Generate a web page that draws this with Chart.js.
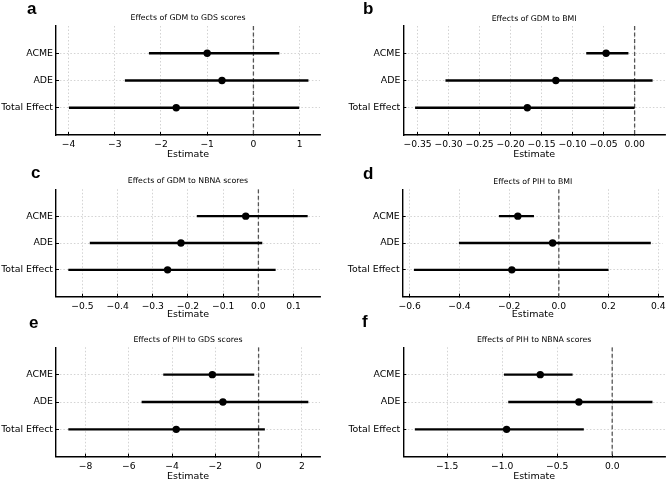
<!DOCTYPE html>
<html>
<head>
<meta charset="utf-8">
<script src="https://cdn.jsdelivr.net/npm/chart.js@4.4.0/dist/chart.umd.min.js"></script>
<style>
  body { margin: 0; background: #fff; }
  #wrap { position: relative; width: 669px; height: 482px; overflow: hidden; }
  .panel { position: absolute; }
  .letter { position: absolute; font: bold 17px "Liberation Sans", Arial, sans-serif; line-height: 17px; color: #000; }
</style>
</head>
<body>
<div id="wrap"></div>
<script>
// rows, top to bottom
const categories = ['ACME', 'ADE', 'Total Effect'];
const panelLetters = ['a', 'b', 'c', 'd', 'e', 'f'];
const panelTitles = [
    'Effects of GDM to GDS scores',
    'Effects of GDM to BMI',
    'Effects of GDM to NBNA scores',
    'Effects of PIH to BMI',
    'Effects of PIH to GDS scores',
    'Effects of PIH to NBNA scores'
];

// point estimates and 95% CI per panel (ACME, ADE, Total Effect)
const gdmGdsEst = [-1.00, -0.68, -1.67];
const gdmGdsLow = [-2.26, -2.78, -3.99];
const gdmGdsHigh = [0.56, 1.19, 0.99];

const gdmBmiEst = [-0.046, -0.127, -0.173];
const gdmBmiLow = [-0.078, -0.305, -0.354];
const gdmBmiHigh = [-0.010, 0.029, 0.000];

const gdmNbnaEst = [-0.036, -0.220, -0.258];
const gdmNbnaLow = [-0.175, -0.479, -0.540];
const gdmNbnaHigh = [0.140, 0.011, 0.049];

const pihBmiEst = [-0.165, -0.025, -0.189];
const pihBmiLow = [-0.241, -0.402, -0.583];
const pihBmiHigh = [-0.100, 0.370, 0.200];

const pihGdsEst = [-2.14, -1.65, -3.81];
const pihGdsLow = [-4.41, -5.41, -8.80];
const pihGdsHigh = [-0.20, 2.30, 0.29];

const pihNbnaEst = [-0.654, -0.303, -0.960];
const pihNbnaLow = [-0.984, -0.945, -1.794];
const pihNbnaHigh = [-0.360, 0.366, -0.258];

// x tick labels per panel
const gdmGdsTicks = [-4, -3, -2, -1, 0, 1];
const gdmBmiTicks = [-0.35, -0.30, -0.25, -0.20, -0.15, -0.10, -0.05, 0.00];
const gdmNbnaTicks = [-0.5, -0.4, -0.3, -0.2, -0.1, 0.0, 0.1];
const pihBmiTicks = [-0.6, -0.4, -0.2, 0.0, 0.2, 0.4];
const pihGdsTicks = [-8, -6, -4, -2, 0, 2];
const pihNbnaTicks = [-1.5, -1.0, -0.5, 0.0];

const panelData = [
    {est: gdmGdsEst, low: gdmGdsLow, high: gdmGdsHigh, ticks: gdmGdsTicks},
    {est: gdmBmiEst, low: gdmBmiLow, high: gdmBmiHigh, ticks: gdmBmiTicks},
    {est: gdmNbnaEst, low: gdmNbnaLow, high: gdmNbnaHigh, ticks: gdmNbnaTicks},
    {est: pihBmiEst, low: pihBmiLow, high: pihBmiHigh, ticks: pihBmiTicks},
    {est: pihGdsEst, low: pihGdsLow, high: pihGdsHigh, ticks: pihGdsTicks},
    {est: pihNbnaEst, low: pihNbnaLow, high: pihNbnaHigh, ticks: pihNbnaTicks}
];

// layout of each panel (canvas box, axis sizes, x range, letter spot)
const layouts = [
    {left: 0,   top: 0,   w: 334, h: 160, axisW: 56,   padR: 14,  plotTop: 26,   axisH: 25,   titleY: 18,   xmin: -4.27,  xmax: 1.44,  dec: 0, lx: 27,  ly: 0},
    {left: 335, top: 0,   w: 334, h: 160, axisW: 68.3, padR: 2.3, plotTop: 26,   axisH: 25,   titleY: 19,   xmin: -0.373, xmax: 0.049, dec: 2, lx: 363, ly: 0},
    {left: 0,   top: 160, w: 334, h: 160, axisW: 56,   padR: 14,  plotTop: 29.3, axisH: 23.3, titleY: 21,   xmin: -0.575, xmax: 0.175, dec: 1, lx: 31,  ly: 164},
    {left: 335, top: 160, w: 334, h: 160, axisW: 67.7, padR: 6,   plotTop: 29.3, axisH: 23.3, titleY: 21.7, xmin: -0.628, xmax: 0.419, dec: 1, lx: 363, ly: 165},
    {left: 0,   top: 320, w: 334, h: 162, axisW: 56,   padR: 14,  plotTop: 27.3, axisH: 25.3, titleY: 20,   xmin: -9.37,  xmax: 2.84,  dec: 0, lx: 29,  ly: 314},
    {left: 335, top: 320, w: 334, h: 162, axisW: 68.3, padR: 1.3, plotTop: 27.3, axisH: 25.3, titleY: 20,   xmin: -1.899, xmax: 0.48,  dec: 1, lx: 362, ly: 313}
];

Chart.defaults.font.family = '"DejaVu Sans", sans-serif';
Chart.defaults.color = '#000';

const gridColor = '#c8c8c8';
const titleSize = 7.8;
const tickIn = -3;   // matplotlib style inward ticks

function fmt(v, dec) {
    return v.toFixed(dec).replace('-', '\u2212');
}

const wrap = document.getElementById('wrap');

for (let p = 0; p < 6; p++) {
    const L = layouts[p];
    const d = panelData[p];

    const box = document.createElement('div');
    box.className = 'panel';
    box.style.left = L.left + 'px';
    box.style.top = L.top + 'px';
    box.style.width = L.w + 'px';
    box.style.height = L.h + 'px';
    const cv = document.createElement('canvas');
    box.appendChild(cv);
    wrap.appendChild(box);

    const letter = document.createElement('div');
    letter.className = 'letter';
    letter.style.left = L.lx + 'px';
    letter.style.top = L.ly + 'px';
    letter.textContent = panelLetters[p];
    wrap.appendChild(letter);

    const lh = titleSize * 1.2;
    const datasets = [];
    // estimates on top
    datasets.push({
        data: d.est.map((v, i) => ({x: v, y: i})),
        showLine: false,
        pointRadius: 3.7,
        pointBackgroundColor: '#000',
        pointBorderColor: '#000',
        pointBorderWidth: 0
    });
    // confidence intervals
    for (let i = 0; i < categories.length; i++) {
        datasets.push({
            data: [{x: d.low[i], y: i}, {x: d.high[i], y: i}],
            showLine: true,
            borderColor: '#000',
            borderWidth: 2.3,
            pointRadius: 0
        });
    }
    // zero reference line
    datasets.push({
        data: [{x: 0, y: -1}, {x: 0, y: 3}],
        showLine: true,
        borderColor: '#555',
        borderWidth: 1.3,
        borderDash: [4, 2.5],
        pointRadius: 0
    });

    new Chart(cv, {
        type: 'scatter',
        data: {datasets: datasets},
        options: {
            responsive: true,
            maintainAspectRatio: false,
            animation: false,
            layout: {padding: {left: 0, right: L.padR, top: 0, bottom: 0}},
            plugins: {
                legend: {display: false},
                tooltip: {enabled: false},
                title: {
                    display: true,
                    text: panelTitles[p],
                    fullSize: false,
                    color: '#000',
                    font: {size: titleSize, weight: 'normal'},
                    padding: {top: L.titleY - lh / 2, bottom: L.plotTop - L.titleY - lh / 2}
                }
            },
            scales: {
                x: {
                    type: 'linear',
                    min: L.xmin,
                    max: L.xmax,
                    afterBuildTicks: s => { s.ticks = d.ticks.map(v => ({value: v})); },
                    afterFit: s => {
                        s.height = L.axisH;
                        // let edge labels hang over, like matplotlib
                        s.paddingLeft = 0;
                        s.paddingRight = 0;
                    },
                    ticks: {
                        font: {size: 9.2},
                        padding: 4 - tickIn,
                        maxRotation: 0,
                        autoSkip: false,
                        callback: v => fmt(v, L.dec)
                    },
                    grid: {color: gridColor, lineWidth: 0.8, tickLength: tickIn, tickColor: '#000', tickWidth: 1},
                    border: {color: '#000', width: 1.4, dash: [1.5, 2]},
                    title: {display: true, text: 'Estimate', font: {size: 9.5}, padding: 0}
                },
                y: {
                    type: 'linear',
                    reverse: true,
                    min: -1,
                    max: 3,
                    afterBuildTicks: s => { s.ticks = categories.map((c, i) => ({value: i})); },
                    afterFit: s => { s.width = L.axisW; },
                    ticks: {
                        font: {size: 9.4},
                        padding: 3 - tickIn,
                        autoSkip: false,
                        callback: v => categories[v]
                    },
                    grid: {color: gridColor, lineWidth: 0.8, tickLength: tickIn, tickColor: '#000', tickWidth: 1},
                    border: {color: '#000', width: 1.4, dash: [1.5, 2]}
                }
            }
        }
    });
}
</script>
</body>
</html>
